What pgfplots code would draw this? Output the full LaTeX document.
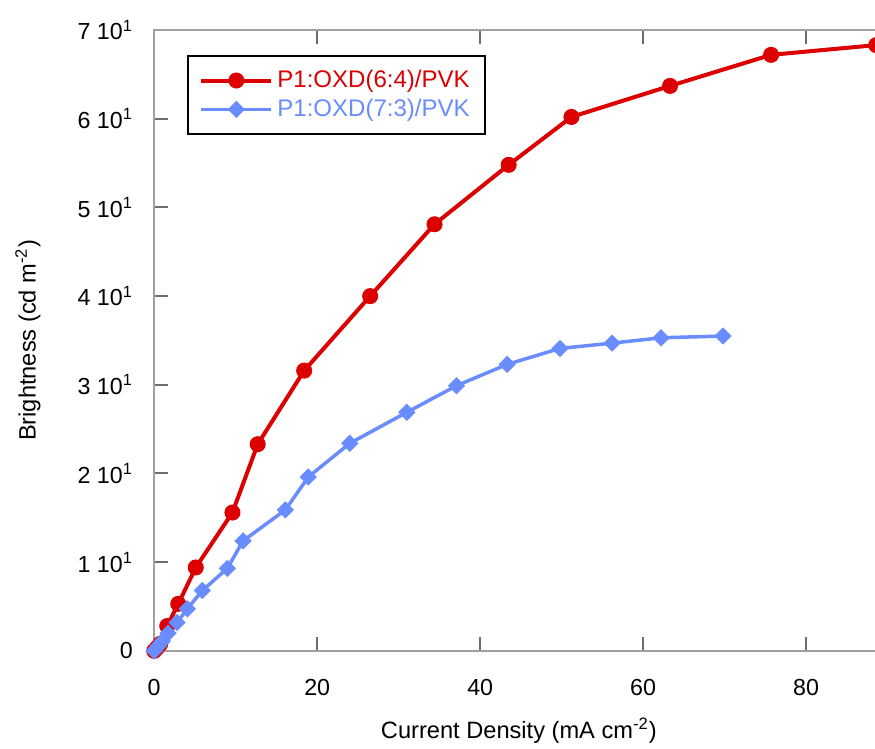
\documentclass[border=0pt]{standalone}
\usepackage{fontspec}
\setmainfont{Liberation Sans}
\usepackage{pgfplots}
\pgfplotsset{compat=1.18}

\definecolor{cred}{RGB}{220,0,0}
\definecolor{cblue}{RGB}{105,140,255}
\definecolor{axgray}{RGB}{160,160,160}
\definecolor{tkgray}{RGB}{110,110,110}

% Brightness vs current density for the two blend ratios
\pgfplotstableread{
x y
0 0
0.35 0.35
0.75 0.8
1.6 2.8
2.95 5.3
5.1 9.4
9.6 15.6
12.7 23.3
18.4 31.6
26.5 40.0
34.4 48.1
43.5 54.8
51.2 60.2
63.3 63.7
75.7 67.2
88.6 68.3
}\ratiosixfour

\pgfplotstableread{
x y
0 0
0.1 0.1
0.5 0.56
1.0 1.1
1.7 2.0
2.8 3.2
4.06 4.74
5.9 6.8
8.97 9.3
10.9 12.4
16.1 15.9
18.9 19.6
24.0 23.4
31.0 26.9
37.1 29.9
43.3 32.3
49.8 34.1
56.2 34.7
62.2 35.3
69.8 35.5
}\ratioseventhree

\begin{document}
\fontsize{11.6}{14}\selectfont
\begin{tikzpicture}
\begin{axis}[
  scale only axis,
  width=360.5pt, height=310pt,
  xmin=0, xmax=88.6,
  ymin=0, ymax=70,
  axis line style={draw=axgray, line width=1pt},
  xtick={0,20,40,60,80},
  ytick={0,10,20,30,40,50,60,70},
  xtick pos=both,
  ytick pos=left,
  tick align=inside,
  major tick length=7pt,
  every major tick/.append style={draw=tkgray, line width=1pt},
  yticklabels={0,
    {1 10\textsuperscript{1}}, {2 10\textsuperscript{1}},
    {3 10\textsuperscript{1}}, {4 10\textsuperscript{1}},
    {5 10\textsuperscript{1}}, {6 10\textsuperscript{1}},
    {7 10\textsuperscript{1}}},
  xticklabel style={yshift=-10pt, font=\fontsize{11.6}{14}\selectfont},
  yticklabel style={xshift=-6.6pt, font=\fontsize{11.6}{14}\selectfont},
  xticklabel={\pgfmathprintnumber[assume math mode=true]{\tick}},
  xlabel={Current Density (mA cm\textsuperscript{-2})},
  ylabel={Brightness (cd m\textsuperscript{-2})},
  every axis x label/.style={at={(axis description cs:0.505,-0.129)}, anchor=center, font=\fontsize{11.8}{14}\selectfont},
  every axis y label/.style={at={(axis description cs:-0.1748,0.5)}, rotate=90, anchor=center, font=\fontsize{11.8}{14}\selectfont},
  legend style={
    at={(axis description cs:0.0458,0.9597)}, anchor=north west,
    draw=black, line width=1pt,
    inner xsep=5.5pt, inner ysep=5pt,
    nodes={inner sep=2pt},
    row sep=0pt,
    font=\fontsize{12}{14}\selectfont,
    cells={anchor=west},
  },
  legend image code/.code={
    \draw[mark repeat=2, mark phase=2]
      plot coordinates {(0pt,0pt) (17.5pt,0pt) (35pt,0pt)};
  },
]
\addplot[cred, line width=2pt, mark=*, mark size=3.75pt, mark options={solid, fill=cred, draw=cred, line width=0.5pt}]
  table[x=x, y=y] {\ratiosixfour};
\addlegendentry{\textcolor{cred}{P1:OXD(6:4)/PVK}}
\addplot[cblue, line width=1.75pt, mark=square*, mark size=2.8pt, mark options={solid, rotate=45, fill=cblue, draw=cblue, line width=0.5pt}]
  table[x=x, y=y] {\ratioseventhree};
\addlegendentry{\textcolor{cblue}{P1:OXD(7:3)/PVK}}
\end{axis}
% the plot area runs on past the right edge of the page
\pgfresetboundingbox
\path[use as bounding box]
  ([xshift=-77pt, yshift=-48.5pt]current axis.south west)
  rectangle ([xshift=-0.6pt, yshift=15pt]current axis.north east);
\end{tikzpicture}
\end{document}
